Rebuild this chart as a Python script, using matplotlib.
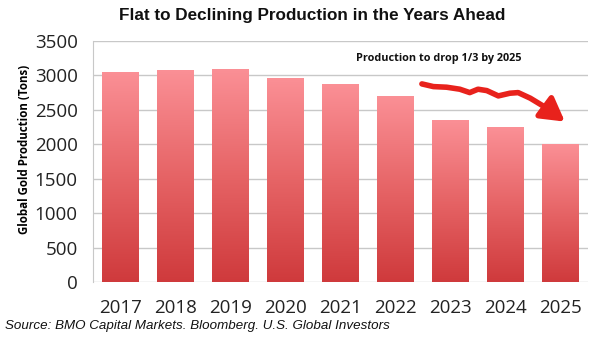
import matplotlib.pyplot as plt
import numpy as np
from matplotlib.colors import LinearSegmentedColormap
from matplotlib.patches import FancyArrowPatch
from matplotlib.path import Path

years = ['2017', '2018', '2019', '2020', '2021', '2022', '2023', '2024', '2025']
production = [3045, 3083, 3098, 2958, 2871, 2701, 2353, 2246, 2004]

yticks = [0, 500, 1000, 1500, 2000, 2500, 3000, 3500]

# wavy trend arrow, in (category index, tons)
trend_x = [5.48, 5.69, 5.93, 6.17, 6.35, 6.5, 6.66, 6.87, 7.08, 7.23, 7.45, 7.75, 8.08]
trend_y = [2875, 2836, 2827, 2798, 2749, 2798, 2778, 2701, 2740, 2749, 2668, 2523, 2328]

bar_cmap = LinearSegmentedColormap.from_list('bar_grad', ['#cf3a3c', '#e66466', '#fb9096'])

fig = plt.figure(figsize=(6, 3.4), dpi=100)
ax = fig.add_axes([0.155, 0.17, 0.825, 0.71])

x = np.arange(len(years))
bar_w = 0.655
bars = ax.bar(x, production, width=bar_w, color='none', edgecolor='none', zorder=2)

# vertical gradient per bar, clipped to the bar rectangle
grad = np.linspace(0, 1, 256).reshape(-1, 1)
for b in bars:
    x0 = b.get_x()
    h = b.get_height()
    im = ax.imshow(grad, cmap=bar_cmap, origin='lower', aspect='auto',
                   extent=[x0, x0 + b.get_width(), 0, h], zorder=2)
    im.set_clip_path(b)

ax.set_xlim(-0.5, len(years) - 0.5)
ax.set_ylim(0, 3500)
ax.set_yticks(yticks)
ax.set_xticks(x)
ax.set_xticklabels(years)
ax.yaxis.grid(True, color='#c8c8c8', linewidth=1.0, zorder=0)
ax.set_axisbelow(True)

for side in ['top', 'right', 'bottom']:
    ax.spines[side].set_visible(False)
ax.spines['left'].set_color('#c8c8c8')
ax.tick_params(axis='both', length=0, labelsize=13.5, colors='#222222')
ax.tick_params(axis='y', pad=11)
ax.tick_params(axis='x', pad=12)
for lbl in ax.get_xticklabels() + ax.get_yticklabels():
    lbl.set_family('Open Sans')

ax.set_ylabel('Global Gold Production (Tons)', fontsize=8.3, fontweight='bold',
              family='Open Sans')
ax.yaxis.set_label_coords(-0.125, 0.55)

fig.text(0.52, 0.955, 'Flat to Declining Production in the Years Ahead',
         ha='center', va='center', fontsize=12.3, fontweight='bold',
         family='Liberation Sans', color='#111111')

ax.text(5.78, 3250, 'Production to drop 1/3 by 2025', ha='center', va='center',
        fontsize=7.8, fontweight='bold', family='Open Sans', color='#111111')

verts = list(zip(trend_x, trend_y))
codes = [Path.MOVETO] + [Path.LINETO] * (len(verts) - 1)
arrow = FancyArrowPatch(path=Path(verts, codes), arrowstyle='-|>,head_length=14,head_width=8',
                        color='#e8221c', linewidth=4, joinstyle='round', capstyle='round',
                        zorder=4)
ax.add_patch(arrow)

fig.text(0.008, 0.04, 'Source: BMO Capital Markets. Bloomberg. U.S. Global Investors',
         ha='left', va='center', fontsize=9.6, style='italic',
         family='Liberation Sans', color='#111111')

fig.savefig('out.png', dpi=100)
